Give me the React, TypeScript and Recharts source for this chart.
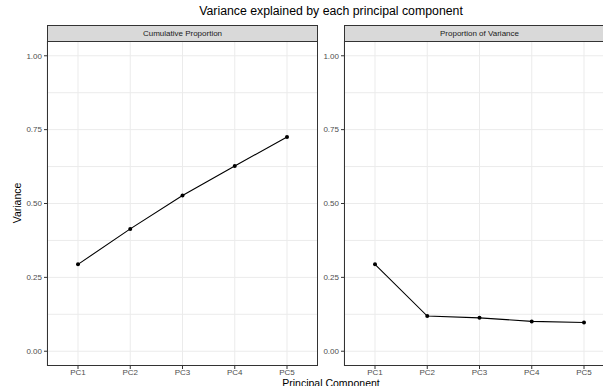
import { CartesianGrid, Line, LineChart, XAxis, YAxis } from 'recharts';

const COMPONENTS = ['PC1', 'PC2', 'PC3', 'PC4', 'PC5'];
const CUMULATIVE = [0.294, 0.414, 0.527, 0.627, 0.725];
const PROPORTION = [0.294, 0.119, 0.113, 0.101, 0.097];
const Y_TICKS = [0, 0.25, 0.5, 0.75, 1];
const Y_GRID = [0, 0.125, 0.25, 0.375, 0.5, 0.625, 0.75, 0.875, 1];

const FONT = '"Liberation Sans", Arial, sans-serif';
const TICK = { fill: '#4d4d4d', fontSize: 8, fontFamily: FONT };

// panel geometry (px)
const PANEL_TOP = 41;
const PANEL_H = 325;
const PANEL_W = 271;
const AXIS_W = 47;
const STRIP_H = 16;

function Panel({ values, title, x }: { values: number[]; title: string; x: number }) {
  const data = COMPONENTS.map((pc, i) => ({ pc, value: values[i] }));
  return (
    <>
      <div
        style={{
          position: 'absolute',
          left: x,
          top: PANEL_TOP - STRIP_H,
          width: PANEL_W - 2,
          height: STRIP_H - 1,
          background: '#d9d9d9',
          border: '1px solid #333333',
          borderBottom: 'none',
          color: '#1a1a1a',
          fontSize: 8,
          lineHeight: `${STRIP_H - 1}px`,
          textAlign: 'center',
        }}
      >
        {title}
      </div>
      <div style={{ position: 'absolute', left: x - AXIS_W, top: PANEL_TOP }}>
        <LineChart
          width={AXIS_W + PANEL_W}
          height={PANEL_H + 20}
          data={data}
          margin={{ top: 0, right: 0, bottom: 0, left: 0 }}
        >
          <CartesianGrid stroke="#ebebeb" strokeWidth={1} horizontalValues={Y_GRID} />
          <XAxis
            dataKey="pc"
            interval={0}
            padding={{ left: 31, right: 31 }}
            axisLine={false}
            tickLine={{ stroke: '#333333' }}
            tickSize={3}
            tickMargin={0}
            tick={TICK}
            height={20}
          />
          <YAxis
            type="number"
            domain={[-0.05, 1.05]}
            allowDataOverflow
            ticks={Y_TICKS}
            width={AXIS_W}
            axisLine={false}
            tickLine={{ stroke: '#333333' }}
            tickSize={3}
            tick={TICK}
            tickFormatter={(v: number) => v.toFixed(2)}
          />
          <Line
            dataKey="value"
            stroke="#000000"
            strokeWidth={1.1}
            dot={{ r: 2, fill: '#000000', stroke: '#000000', strokeWidth: 0 }}
            isAnimationActive={false}
          />
        </LineChart>
      </div>
      <div
        style={{
          position: 'absolute',
          left: x,
          top: PANEL_TOP,
          width: PANEL_W - 2,
          height: PANEL_H - 2,
          border: '1px solid #333333',
          pointerEvents: 'none',
        }}
      />
    </>
  );
}

export default function App() {
  return (
    <div
      style={{
        position: 'absolute',
        left: 0,
        top: 0,
        width: 603,
        height: 386,
        overflow: 'hidden',
        background: '#ffffff',
        fontFamily: FONT,
      }}
    >
      <div
        style={{
          position: 'absolute',
          left: 0,
          top: 4,
          width: 662,
          textAlign: 'center',
          fontSize: 12.3,
          color: '#000000',
        }}
      >
        Variance explained by each principal component
      </div>
      <Panel values={CUMULATIVE} title="Cumulative Proportion" x={47} />
      <Panel values={PROPORTION} title="Proportion of Variance" x={344} />
      <div
        style={{
          position: 'absolute',
          left: 0,
          top: 377,
          width: 662,
          textAlign: 'center',
          fontSize: 10.5,
          color: '#000000',
        }}
      >
        Principal Component
      </div>
      <div
        style={{
          position: 'absolute',
          left: 17,
          top: 203,
          transform: 'translate(-50%, -50%) rotate(-90deg)',
          fontSize: 10.5,
          color: '#000000',
          whiteSpace: 'nowrap',
        }}
      >
        Variance
      </div>
    </div>
  );
}
